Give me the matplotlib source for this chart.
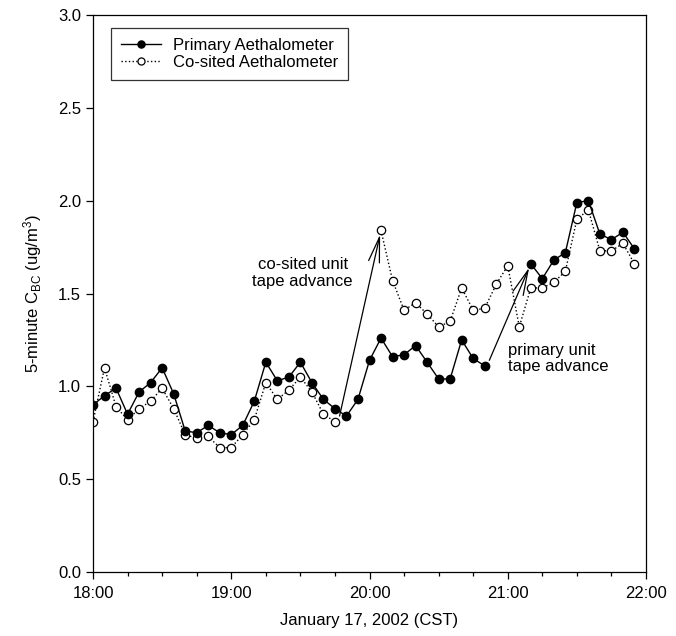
import numpy as np
import pandas as pd
import matplotlib
matplotlib.use("Agg")
import matplotlib.pyplot as plt
from matplotlib.ticker import MultipleLocator, FuncFormatter

plt.rcParams['font.family'] = ['Liberation Sans', 'DejaVu Sans']
plt.rcParams['mathtext.fontset'] = 'custom'
plt.rcParams['mathtext.rm'] = 'Liberation Sans'
plt.rcParams['mathtext.it'] = 'Liberation Sans:italic'

# 5-minute samples, 18:00 - 21:55 CST on 2002-01-17
times = pd.date_range('2002-01-17 18:00', periods=48, freq='5min')
nan = np.nan
primary = [0.90, 0.95, 0.99, 0.85, 0.97, 1.02, 1.10, 0.96, 0.76, 0.75, 0.79, 0.75,
           0.74, 0.79, 0.92, 1.13, 1.03, 1.05, 1.13, 1.02, 0.93, 0.88, 0.84, 0.93,
           1.14, 1.26, 1.16, 1.17, 1.22, 1.13, 1.04, 1.04, 1.25, 1.15, 1.11, nan,
           nan, nan, 1.66, 1.58, 1.68, 1.72, 1.99, 2.00, 1.82, 1.79, 1.83, 1.74]
cosited = [0.81, 1.10, 0.89, 0.82, 0.88, 0.92, 0.99, 0.88, 0.74, 0.72, 0.73, 0.67,
           0.67, 0.74, 0.82, 1.02, 0.93, 0.98, 1.05, 0.97, 0.85, 0.81, nan, nan,
           nan, 1.84, 1.57, 1.41, 1.45, 1.39, 1.32, 1.35, 1.53, 1.41, 1.42, 1.55,
           1.65, 1.32, 1.53, 1.53, 1.56, 1.62, 1.90, 1.95, 1.73, 1.73, 1.77, 1.66]

# hours after midnight for plotting
hrs = times.hour + times.minute / 60.0

FS = 12
fig = plt.figure(figsize=(6.76, 6.36), dpi=100)
ax = fig.add_axes([0.1376, 0.1006, 0.818, 0.8758])

ax.plot(hrs, cosited, ls=':', color='black', lw=1.0, marker='o', ms=6,
        mfc='white', mec='black', mew=0.9, label='Co-sited Aethalometer', zorder=2)
ax.plot(hrs, primary, ls='-', color='black', lw=1.0, marker='o', ms=6,
        mfc='black', mec='black', label='Primary Aethalometer', zorder=3)

ax.set_xlim(18, 22)
ax.set_ylim(0, 3.0)
ax.xaxis.set_major_locator(MultipleLocator(1))
ax.xaxis.set_minor_locator(MultipleLocator(0.25))
ax.xaxis.set_major_formatter(FuncFormatter(lambda v, p: f"{int(round(v))}:00"))
ax.yaxis.set_major_locator(MultipleLocator(0.5))
ax.yaxis.set_major_formatter(FuncFormatter(lambda v, p: f"{v:.1f}"))
ax.tick_params(which='major', direction='out', length=5, width=0.9, labelsize=FS,
               top=False, right=False)
ax.tick_params(axis='x', which='major', pad=5)
ax.tick_params(which='minor', direction='out', length=3, width=0.9, top=False, right=False)
ax.tick_params(axis='y', which='minor', left=False)
for s in ax.spines.values():
    s.set_linewidth(0.9)

ax.set_xlabel("January 17, 2002 (CST)", fontsize=FS, labelpad=9)
ax.set_ylabel("5-minute C$_{\\rm BC}$ (ug/m$^{3}$)", fontsize=FS, labelpad=10)

h, l = ax.get_legend_handles_labels()
leg = ax.legend(h[::-1], l[::-1], loc='upper left', bbox_to_anchor=(0.033, 0.977),
                borderaxespad=0, fontsize=FS, frameon=True, fancybox=False,
                handlelength=2.4, handletextpad=0.7, labelspacing=0.15,
                borderpad=0.6, markerscale=0.85)
leg.get_frame().set_edgecolor('black')
leg.get_frame().set_linewidth(0.9)

arrow = dict(arrowstyle='->,head_length=1.5,head_width=0.33', lw=0.9, color='black',
             shrinkA=0, shrinkB=3, mutation_scale=12)
# co-sited unit tape advance
ax.annotate("", xy=(hrs[25], cosited[25]), xytext=(19 + 47 / 60, 0.84), arrowprops=arrow)
ax.text(19 + 31 / 60, 1.61, "co-sited unit\ntape advance", fontsize=FS,
        ha='center', va='center', linespacing=1.1)
# primary unit tape advance
ax.annotate("", xy=(hrs[38], primary[38]), xytext=(20 + 52 / 60, 1.14), arrowprops=arrow)
ax.text(21 + 0 / 60, 1.15, "primary unit\ntape advance", fontsize=FS,
        ha='left', va='center', linespacing=1.1)

fig.savefig("out.png", dpi=100)
